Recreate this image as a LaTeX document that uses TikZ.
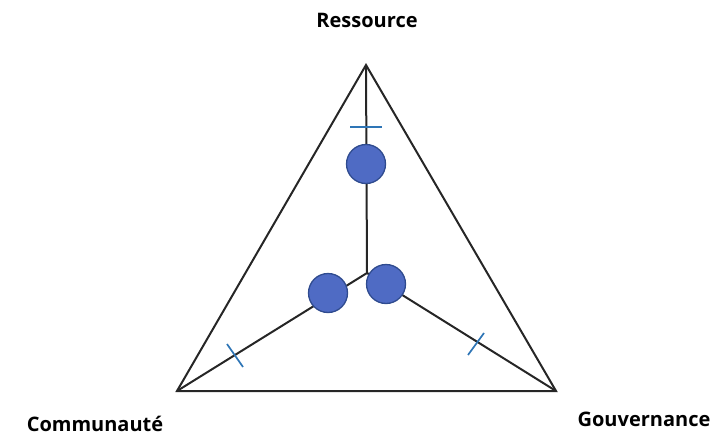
\documentclass[tikz,border=0pt]{standalone}
\usepackage{fontspec}
\setmainfont{Open Sans}
\begin{document}
\begin{tikzpicture}[x=1pt,y=-1pt,
  edge/.style={line width=2pt,black!85},
  tick/.style={line width=1.7pt,color=tickblue},
  dot/.style={circle,fill=dotfill,draw=dotdraw,line width=1.3pt,minimum size=39pt,inner sep=0pt},
  lab/.style={font=\fontsize{20}{24}\selectfont\bfseries,anchor=base,inner sep=0pt}]
\definecolor{tickblue}{HTML}{2E75B6}
\definecolor{dotfill}{HTML}{4F6BC4}
\definecolor{dotdraw}{HTML}{2F4B8F}
\useasboundingbox (0,0) rectangle (711,436);
\coordinate (R) at (366,65);
\coordinate (C) at (177,391);
\coordinate (G) at (556,391);
\coordinate (O) at (367,273);
\draw[edge,line join=miter] (R) -- (C) -- (G) -- cycle;
\draw[edge] (O) -- (R);
\draw[edge] (O) -- (C);
\draw[edge] (O) -- (G);
\coordinate (t1a) at (350,127); \coordinate (t1b) at (382,127);
\coordinate (t2a) at (227,344); \coordinate (t2b) at (243,367);
\coordinate (t3a) at (484,333); \coordinate (t3b) at (468,355);
\draw[tick] (t1a) -- (t1b);
\draw[tick] (t2a) -- (t2b);
\draw[tick] (t3a) -- (t3b);
\node[dot] (d1) at (366,164) {};
\node[dot] (d2) at (328,293) {};
\node[dot] (d3) at (386,284) {};
\node[lab] (lr) at (367,28) {Ressource};
\node[lab] (lc) at (95,431) {Communauté};
\node[lab] (lg) at (644,426) {Gouvernance};
\end{tikzpicture}
\end{document}
